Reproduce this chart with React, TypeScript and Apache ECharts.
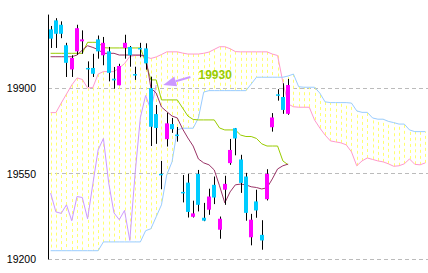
import React, { useEffect, useRef } from "react";
import * as echarts from "echarts";

// 72 daily slots: 46 trading days + 26 days of forward cloud
const categories: string[] = Array.from({ length: 72 }, (_, i) => `D${i + 1}`);

const opens = [
  20141, 20178, 20160, 20076, 19977, 20051, 20092, 19983, 19983, 20100,
  20035, 20051, 19939, 19912, 20065, 20069, 19958, 20065, 20063, 19900,
  19794, 19549, 19691, 19753, 19710, 19475, 19513, 19373, 19549, 19369,
  19402, 19504, 19320, 19484, 19593, 19736, 19608, 19538, 19289, 19436,
  19299, 19445, 19740, 19875, 19864, 19795,
];
const closes = [
  20103, 20123, 20123, 20004, 20024, 20146, 20100, 19977, 19959, 20051,
  20086, 19963, 19932, 19991, 20086, 20035, 19953, 20060, 20002, 19742,
  19737, 19543, 19756, 19732, 19706, 19470, 19393, 19387, 19422, 19357,
  19456, 19452, 19365, 19508, 19647, 19694, 19512, 19389, 19361, 19399,
  19276, 19549, 19780, 19870, 19811, 19913,
];
const lows = [
  20065, 20065, 20105, 19946, 19946, 20037, 20041, 19905, 19946, 20021,
  19994, 19928, 19898, 19912, 20021, 19988, 19934, 20027, 19976, 19663,
  19672, 19486, 19661, 19717, 19681, 19432, 19370, 19370, 19395, 19355,
  19381, 19425, 19283, 19422, 19586, 19625, 19471, 19357, 19256, 19369,
  19238, 19440, 19722, 19849, 19795, 19791,
];
const highs = [
  20155, 20187, 20174, 20086, 20035, 20160, 20137, 20010, 20041, 20116,
  20110, 20069, 19987, 20000, 20119, 20073, 19988, 20086, 20084, 19947,
  19831, 19602, 19799, 19778, 19741, 19544, 19549, 19439, 19565, 19430,
  19488, 19538, 19374, 19541, 19692, 19737, 19627, 19553, 19385, 19484,
  19359, 19568, 19798, 19896, 19920, 19938,
];

// conversion line (tenkan-sen)
const tenkan = [
  20029, 20029, 20029, 20029, 20029, 20036, 20056, 20074, 20067, 20058,
  20043, 20043, 20043, 20036, 20036, 20036, 20036, 20036, 20032, 19901,
  19880, 19823, 19804, 19786, 19778, 19733, 19696, 19663, 19610, 19594,
  19586, 19565, 19500, 19430, 19475, 19504, 19507, 19504, 19496, 19493,
  19487, 19492, 19528, 19569, 19582, 19589,
];
// base line (kijun-sen)
const kijun = [
  20043, 20043, 20043, 20043, 20043, 20043, 20043, 20088, 20088, 20088,
  20066, 20065, 20065, 20065, 20065, 20065, 20065, 20065, 20007, 19934,
  19934, 19852, 19852, 19852, 19852, 19819, 19786, 19772, 19770, 19770,
  19770, 19770, 19737, 19729, 19729, 19729, 19708, 19702, 19702, 19694,
  19672, 19663, 19663, 19663, 19602, 19586,
];
// leading span A (pink)
const senkouA = [
  19800, 19800, 19839, 19876, 19913, 19942, 19936, 19901, 19903, 19958,
  19968, 19968, 19968, 19983, 20001, 20030, 20034, 20034, 20028, 20022,
  20028, 20038, 20049, 20049, 20049, 20044, 20040, 20040, 20040, 20043,
  20048, 20059, 20070, 20070, 20062, 20050, 20049, 20049, 20049, 20049,
  20049, 20049, 20040, 20034, 19925, 19835, 19824, 19822, 19822, 19822,
  19770, 19737, 19708, 19684, 19680, 19676, 19668, 19639, 19582, 19602,
  19614, 19608, 19602, 19598, 19590, 19580, 19582, 19590, 19610, 19588,
  19586, 19594,
];
// leading span B (light blue)
const senkouB = [
  19234, 19234, 19234, 19234, 19234, 19234, 19234, 19234, 19234, 19234,
  19270, 19270, 19270, 19270, 19270, 19270, 19270, 19270, 19316, 19324,
  19373, 19422, 19545, 19598, 19729, 19736, 19736, 19736, 19778, 19884,
  19890, 19890, 19890, 19890, 19890, 19890, 19890, 19890, 19917, 19945,
  19945, 19945, 19945, 19945, 19945, 19950, 19958, 19906, 19904, 19904,
  19904, 19880, 19844, 19841, 19841, 19841, 19841, 19839, 19807, 19801,
  19801, 19778, 19773, 19773, 19764, 19759, 19753, 19753, 19729, 19722,
  19722, 19722,
];

const yTicks = [19200, 19550, 19900];
const LAG = 25;
const chikou = closes.slice(LAG); // lagging span
const annotationLabel = "19930";

const UP = "#ff00ff";
const DOWN = "#00ccff";

export default function App() {
  const ref = useRef<HTMLDivElement>(null);

  useEffect(() => {
    const el = ref.current;
    if (!el) return;
    const chart = echarts.init(el, null, { renderer: "svg" });

    const cloudData = senkouA.map((a, i) => [i, a, senkouB[i]]);
    const candleData = opens.map((o, i) => [i, o, closes[i], lows[i], highs[i]]);

    chart.setOption({
      animation: false,
      grid: { left: 48, right: 0, top: 15, bottom: 14, outerBoundsMode: "none" },
      xAxis: {
        type: "category",
        data: categories,
        boundaryGap: true,
        show: false,
      },
      yAxis: {
        type: "value",
        min: 19200,
        max: 20200,
        interval: 350,
        axisLine: { show: true, onZero: false, lineStyle: { color: "#000", width: 1 } },
        axisTick: { show: false },
        axisLabel: {
          showMaxLabel: false,
          margin: 12,
          color: "#000",
          fontFamily: "Liberation Sans",
          fontSize: 10.5,
          formatter: (v: number) => (yTicks.includes(v) ? String(v) : ""),
        },
        splitLine: {
          show: true,
          showMaxLine: false,
          lineStyle: { color: "#bbbbbb", type: [4, 3], width: 1 },
        },
      },
      series: [
        {
          type: "custom",
          data: cloudData,
          encode: { x: 0, y: [1, 2] },
          silent: true,
          z: 1,
          renderItem: (params: any, api: any) => {
            const i = api.value(0);
            const pa = api.coord([i, api.value(1)]);
            const pb = api.coord([i, api.value(2)]);
            const x = Math.round(pa[0]) + 0.5;
            return {
              type: "line",
              shape: { x1: x, y1: pa[1], x2: x, y2: pb[1] },
              style: { stroke: "#ffff70", lineWidth: 1, lineDash: [3, 3] },
            };
          },
        },
        {
          type: "line",
          data: senkouA,
          symbol: "none",
          silent: true,
          lineStyle: { color: "#ff99cc", width: 1 },
          z: 2,
        },
        {
          type: "line",
          data: senkouB,
          symbol: "none",
          silent: true,
          lineStyle: { color: "#99ccff", width: 1 },
          z: 2,
        },
        {
          type: "line",
          data: chikou,
          symbol: "none",
          silent: true,
          lineStyle: { color: "#cc99ff", width: 1 },
          z: 3,
        },
        {
          type: "line",
          data: kijun,
          symbol: "none",
          silent: true,
          lineStyle: { color: "#99cc00", width: 1 },
          z: 3,
        },
        {
          type: "line",
          data: tenkan,
          symbol: "none",
          silent: true,
          lineStyle: { color: "#993366", width: 1 },
          z: 3,
        },
        {
          type: "custom",
          data: candleData,
          encode: { x: 0, y: [1, 2, 3, 4] },
          silent: true,
          z: 4,
          renderItem: (params: any, api: any) => {
            const i = api.value(0);
            const o = api.value(1);
            const c = api.value(2);
            const pO = api.coord([i, o]);
            const pC = api.coord([i, c]);
            const pL = api.coord([i, api.value(3)]);
            const pH = api.coord([i, api.value(4)]);
            const cx = Math.round(pO[0]);
            const top = Math.min(pO[1], pC[1]);
            const h = Math.max(Math.abs(pO[1] - pC[1]), 1.5);
            return {
              type: "group",
              children: [
                {
                  type: "line",
                  shape: { x1: cx + 0.5, y1: pH[1], x2: cx + 0.5, y2: pL[1] },
                  style: { stroke: "#000", lineWidth: 1 },
                },
                {
                  type: "rect",
                  shape: { x: cx - 2, y: top, width: 4, height: h },
                  style: { fill: c >= o ? UP : DOWN },
                },
              ],
            };
          },
        },
      ],
    });

    let anchor: number[] | undefined;
    try {
      anchor = chart.convertToPixel({ gridIndex: 0 } as any, [
        chikou.length - 1,
        closes[closes.length - 1],
      ]) as number[];
    } catch (e) {
      anchor = undefined;
    }
    if (anchor && isFinite(anchor[0]) && isFinite(anchor[1])) {
      const tx = anchor[0] + 7;
      const ty = anchor[1];
      chart.setOption({
        graphic: [
          {
            type: "line",
            shape: { x1: tx + 12.5, y1: ty - 3.7, x2: tx + 27.2, y2: ty - 8 },
            style: { stroke: "#cc99ff", lineWidth: 2 },
            z: 10,
          },
          {
            type: "polygon",
            shape: {
              points: [
                [tx, ty],
                [tx + 11.1, ty - 8.5],
                [tx + 13.9, ty + 1.1],
              ],
            },
            style: { fill: "#cc99ff" },
            z: 10,
          },
          {
            type: "text",
            x: tx + 52,
            y: ty - 10,
            style: {
              text: annotationLabel,
              fill: "#99cc00",
              font: 'bold 12px "Liberation Sans"',
              align: "center",
              verticalAlign: "middle",
            },
            z: 10,
          },
        ],
      });
    }

    return () => {
      chart.dispose();
    };
  }, []);

  return (
    <div
      ref={ref}
      style={{ position: "absolute", left: 0, top: 0, width: 428, height: 273, background: "#fff" }}
    />
  );
}
